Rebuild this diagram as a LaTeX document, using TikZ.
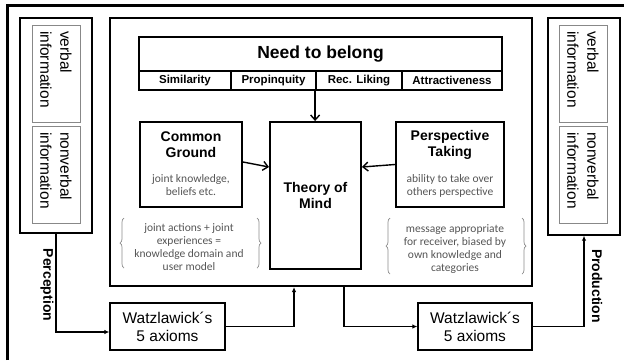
\documentclass[tikz,border=0pt]{standalone}
\usepackage{fontspec}
\setmainfont{Liberation Sans}
\newfontfamily\calib{Carlito}
\usetikzlibrary{arrows.meta,calc,decorations.pathreplacing}
\definecolor{smallgray}{HTML}{555555}
\definecolor{bracegray}{HTML}{8A8A8A}
\definecolor{thingray}{HTML}{888888}
\begin{document}
\begin{tikzpicture}[x=1pt,y=-1pt,
  mainbox/.style={draw, line width=2.2pt, inner sep=0pt},
  panel/.style={draw, line width=1.4pt, inner sep=0pt, minimum width=72pt},
  infobox/.style={draw=thingray, line width=0.8pt, rotate=-90, minimum width=97pt, minimum height=48pt,
     align=left, text width=85pt, inner xsep=6pt, inner ysep=0pt, font=\fontsize{15.5}{20}\selectfont},
  cell/.style={draw, line width=1.8pt, inner sep=0pt, minimum height=19pt, font=\bfseries\fontsize{11.5}{13}\selectfont},
  headcell/.style={draw, line width=1.8pt, inner sep=0pt, minimum width=363pt, minimum height=34pt, font=\bfseries\fontsize{17.5}{20}\selectfont},
  conbox/.style={draw, line width=2pt, inner sep=0pt},
  title/.style={align=center, font=\bfseries\fontsize{14}{16}\selectfont},
  desc/.style={align=center, text=smallgray, font=\calib\fontsize{11.5}{13}\selectfont},
  wbox/.style={draw, line width=1.3pt, minimum width=115pt, minimum height=47pt, inner sep=0pt, align=center,
     font=\fontsize{15.5}{18}\selectfont},
  sidelabel/.style={rotate=-90, font=\bfseries\fontsize{14}{16}\selectfont},
  tarr/.style={line width=1.4pt, -{Straight Barb[length=5pt,width=9pt]}},
  barr/.style={line width=1.2pt, -{Latex[length=5pt,width=4.5pt]}},
  bracedeco/.style={draw=bracegray, line width=0.7pt, decorate, decoration={brace, amplitude=4pt}}
]
\useasboundingbox (0,0) rectangle (624,360);
% outer frame (left and top)
\draw[line width=3pt] (7,360) -- (7,5) -- (624,5);

% side panels
\node[panel, minimum height=215pt] (lp) at (56,125.5) {};
\node[infobox] (lvb) at (56,73.5) {verbal\\information};
\node[infobox] (lnvb) at (56,174.5) {nonverbal\\information};
\node[panel, minimum height=217pt] (rp) at (584,126.5) {};
\node[infobox] (rvb) at (583,73.5) {verbal\\information};
\node[infobox] (rnvb) at (583,174.5) {nonverbal\\information};

% main box
\node[mainbox, minimum width=422pt, minimum height=268pt] (main) at (321,152) {};

% need to belong table
\node[headcell] (head) at (320.5,54) {Need to belong};
\node[cell, minimum width=92pt] (c1) at (185,80.5) {Similarity};
\node[cell, minimum width=85pt] (c2) at (273.5,80.5) {Propinquity};
\node[cell, minimum width=86pt] (c3) at (359,80.5) {Rec. Liking};
\node[cell, minimum width=100pt] (c4) at (452,80.5) {Attractiveness};

% theory of mind and neighbours
\node[conbox, minimum width=91pt, minimum height=147pt, title] (tom) at (315.5,195.5) {Theory of\\Mind};
\node[conbox, minimum width=102pt, minimum height=85pt] (cg) at (191,164.5) {};
\node[title] (cgt) at ($(cg.north)+(0,24)$) {Common\\Ground};
\node[desc] (cgd) at ($(cg.north)+(0,64.5)$) {joint knowledge,\\beliefs etc.};
\node[conbox, minimum width=108pt, minimum height=85pt] (pt) at (450,164.5) {};
\node[title] (ptt) at ($(pt.north)+(0,24)$) {Perspective\\Taking};
\node[desc] (ptd) at ($(pt.north)+(0,64.5)$) {ability to take over\\others perspective};

% brace texts
\node[desc] (bl) at (189,247) {joint actions + joint\\experiences =\\knowledge domain and\\user model};
\draw[bracedeco] (124,268) -- (124,218);
\draw[bracedeco] (257,218) -- (257,268);
\node[desc] (br) at (455,249) {message appropriate\\for receiver, biased by\\own knowledge and\\categories};
\draw[bracedeco] (390,274) -- (390,218);
\draw[bracedeco] (522,218) -- (522,274);

% arrows into theory of mind
\draw[tarr] (c3.south west) -- (c3.south west |- tom.north);
\draw[tarr] ($(cg.east)+(0,-2.5)$) -- ($(tom.west)+(0,-28.5)$);
\draw[tarr] (pt.west) -- ($(tom.east)+(0,-28.5)$);

% Watzlawick boxes
\node[wbox] (w1) at (167.5,326.5) {Watzlawick´s\\5 axioms};
\node[wbox, minimum width=114pt] (w2) at (475,326.5) {Watzlawick´s\\5 axioms};

% bottom connectors
\draw[barr] (lp.south) |- ($(w1.west)+(0,5.5)$);
\node[sidelabel] (perc) at (47,285) {Perception};
\draw[barr] (w1.east) -| ($(main.south)+(-27,0)$);
\draw[barr] ($(main.south)+(23,0)$) |- (w2.west);
\draw[barr] (w2.east) -| (rp.south);
\node[sidelabel] (prod) at (597,286) {Production};
\end{tikzpicture}
\end{document}
